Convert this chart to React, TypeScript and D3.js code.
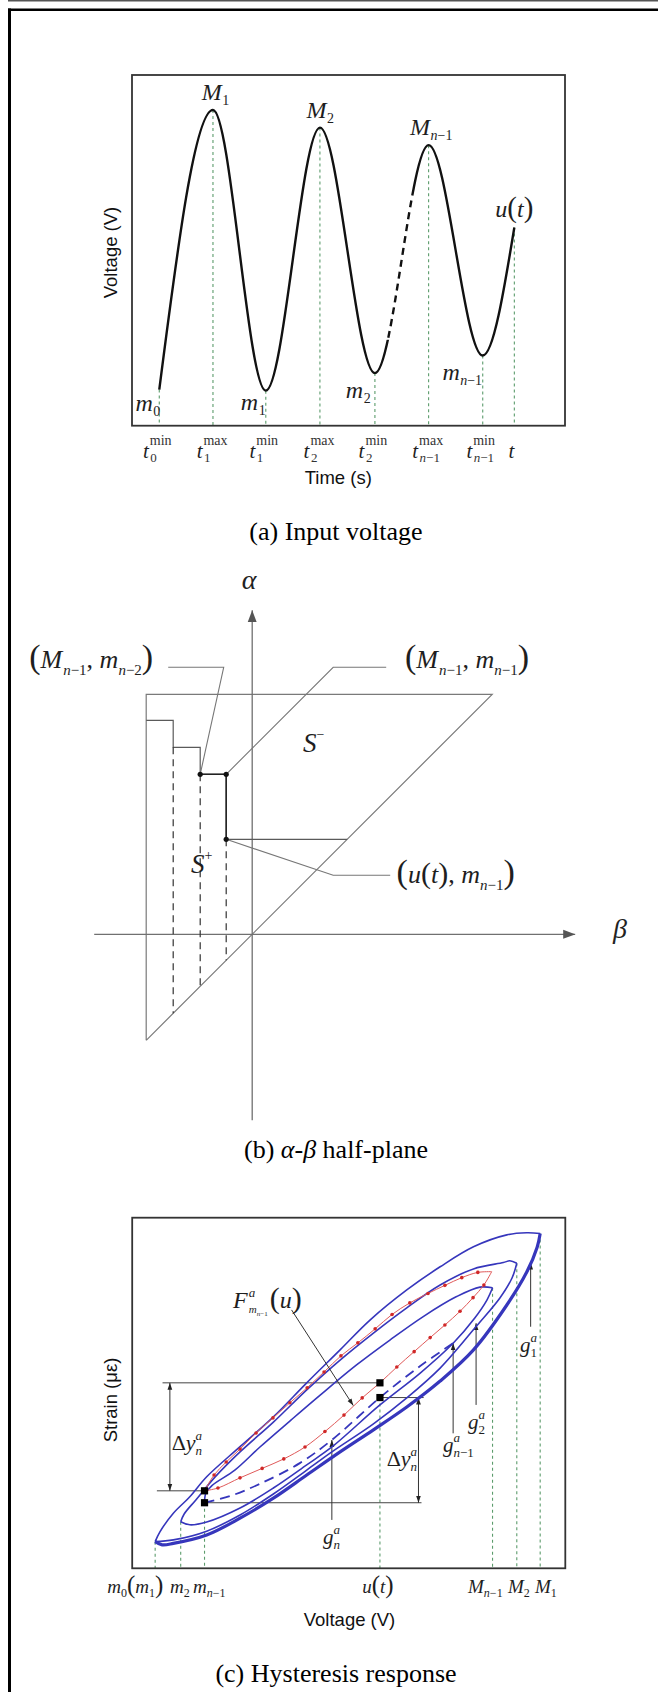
import React from "react";
import * as d3 from "d3";

const SERIF = "'Liberation Serif','Times New Roman',Times,serif";
const SANS = "'Liberation Sans',Arial,Helvetica,sans-serif";
const INK = "#1e1e1e";
const LOOP_BLUE = "#3636bc";
const GUIDE_GREEN = "#5c9c6c";
const REV_RED = "#e05a5a";

type P = [number, number];
type Seg = { t: string; it?: boolean; size?: number; shift?: number; dx?: number };

// ---------- (a) input voltage: successive extrema of u(t) ----------
const extremaTime = [0.63, 1.87, 3.09, 4.34, 5.61, 6.85, 8.1, 8.83];
const extremaVolt = [1.03, 9.0, 1.0, 8.5, 1.5, 8.0, 2.0, 5.65];
const unknownSpanVolt: [number, number] = [2.45, 6.72]; // elided stretch between m2 and M_{n-1}
const timeTickSup = ["min", "max", "min", "max", "min", "max", "min", ""];
const timeTickSub = ["0", "1", "1", "2", "2", "n−1", "n−1", ""];
const extremaBase = ["m", "M", "m", "M", "m", "M", "m", "u"];
const extremaSub = ["0", "1", "1", "2", "2", "n−1", "n−1", ""];
const extremaLabelDx = [-6.5, 8.8, -7.6, 6.7, -11.7, 1.5, -23, 0];
const extremaLabelDy = [21, -10, 19.7, -9.7, 24.7, -10, 24.7, -11];

// ---------- (b) Preisach half-plane ----------
const triangleBeta = [-1.06, -1.06, 2.4, -1.06];
const triangleAlpha = [-1.06, 2.4, 2.4, -1.06];
const stairBeta = [-1.06, -0.79, -0.79, -0.52, -0.52, -0.26, -0.26, 0.95];
const stairAlpha = [2.14, 2.14, 1.87, 1.87, 1.6, 1.6, 0.95, 0.95];
const memoryBeta = [-0.79, -0.52, -0.26];
const memoryAlpha = [1.87, 1.6, 0.95];
const markedBeta = [-0.52, -0.26, -0.26];
const markedAlpha = [1.6, 1.6, 0.95];
const betaAxisSpan = [-1.58, 3.23];
const alphaAxisSpan = [-1.86, 3.24];
const leaderOld: P[] = [[-0.84, 2.67], [-0.285, 2.67], [-0.52, 1.6]];
const leaderCorner: P[] = [[1.34, 2.67], [0.81, 2.67], [-0.26, 1.6]];
const leaderCurrent: P[] = [[-0.26, 0.95], [0.81, 0.59], [1.38, 0.59]];

// ---------- (c) hysteresis response (voltage %, strain %) ----------
const outerFall: P[] = [[94.2, 95.5], [91.1, 95.7], [86.5, 95.1], [78.8, 91.7], [71.1, 86.0], [63.4, 79.4], [54.9, 70.8], [48.0, 62.3], [40.3, 52.9], [32.6, 43.2], [24.9, 34.7], [17.2, 26.1], [13.3, 20.4], [9.5, 15.7], [6.4, 10.4], [5.3, 7.6]];
const outerRise: P[] = [[5.3, 7.6], [6.9, 6.7], [9.5, 7.1], [17.2, 9.5], [24.9, 14.3], [32.6, 20.0], [40.3, 26.6], [48.0, 33.2], [55.7, 39.5], [63.4, 46.0], [71.1, 53.4], [78.8, 62.3], [86.5, 75.1], [91.1, 84.5], [93.5, 91.6], [94.2, 95.5]];
const riseToM2: P[] = [[5.3, 7.6], [9.5, 8.1], [17.2, 10.6], [24.9, 15.2], [32.6, 21.2], [40.3, 28.0], [46.1, 33.2], [55.7, 41.2], [63.4, 48.6], [71.1, 57.1], [79.5, 69.1], [84.9, 77.1], [87.7, 82.8], [88.8, 87.0]];
const fallFromM2: P[] = [[88.8, 87.0], [87.2, 87.7], [85.7, 87.2], [78.8, 85.4], [71.1, 80.8], [63.4, 74.3], [55.7, 67.1], [48.0, 59.4], [40.3, 50.9], [32.6, 41.7], [24.9, 33.2], [19.1, 26.0], [14.7, 19.5], [12.0, 15.5], [11.2, 13.3]];
const riseToMn1: P[] = [[11.2, 13.3], [13.3, 12.4], [17.2, 13.2], [24.9, 17.2], [32.6, 22.9], [40.3, 29.5], [46.1, 34.6], [57.2, 46.6], [66.5, 55.7], [74.1, 64.2], [79.1, 71.4], [81.9, 76.5], [83.2, 80.0]];
const fallFromMn1: P[] = [[83.2, 80.0], [80.3, 80.2], [74.9, 77.5], [67.2, 71.8], [59.5, 65.1], [51.8, 58.0], [43.4, 49.4], [36.4, 42.0], [29.5, 34.6], [23.7, 28.0], [18.4, 23.6], [17.0, 21.4], [16.7, 18.7]];
const currentRise: P[] = [[16.7, 18.7], [22.6, 20.6], [29.5, 24.1], [38.7, 30.0], [46.1, 36.6], [57.2, 48.7], [66.5, 57.7], [74.1, 64.2]];
const reversalRise: P[] = [[16.7, 22.1], [19.8, 22.9], [24.9, 25.8], [30.0, 28.5], [35.0, 31.2], [39.9, 34.6], [44.5, 39.0], [48.9, 43.7], [53.1, 48.6], [57.2, 52.9], [61.1, 57.4], [65.1, 61.8], [68.8, 65.8], [72.2, 69.4], [75.7, 73.3], [78.7, 77.2], [81.2, 80.8], [83.0, 84.6]];
const reversalFall: P[] = [[83.0, 84.6], [79.8, 84.4], [76.1, 82.9], [72.2, 80.7], [68.3, 78.4], [64.1, 75.7], [60.0, 72.4], [56.1, 68.3], [52.1, 64.3], [48.2, 60.6], [44.3, 56.0], [40.4, 51.5], [36.4, 47.2], [32.5, 42.9], [28.6, 38.6], [24.9, 34.0], [21.7, 30.3], [18.9, 26.6], [16.7, 22.1]];

// reversal values at m_{n-1} and u(t)
const squareV = [16.7, 16.7, 57.2, 57.2];
const squareS = [22.1, 18.7, 52.9, 48.7];

// turning-point voltages and the strain reached there
const turnV = [5.3, 11.2, 16.7, 57.2, 83.2, 88.8, 94.2];
const turnS = [7.6, 13.3, 18.7, 48.7, 80.0, 87.0, 95.5];

// level lines used for the two Δy readings
const levelLines: P[][] = [
  [[7.0, 52.9], [57.2, 52.9]],
  [[5.7, 22.1], [16.7, 22.1]],
  [[57.2, 48.7], [67.3, 48.7]],
  [[16.7, 18.7], [66.8, 18.7]],
];
const deltaV = [8.7, 66.1];
const deltaTop = [52.9, 48.7];
const deltaBottom = [22.1, 18.7];

// g arrows: voltage, start strain, strain on the branch
const gV = [46.1, 74.1, 79.4, 92.0];
const gFrom = [13.8, 38.5, 46.6, 68.9];
const gTo = [36.6, 64.2, 69.9, 87.2];
const gSub = ["n", "n−1", "2", "1"];
const gLabelV = [44.05, 71.76, 77.53, 89.54];
const gLabelS = [7.0, 33.17, 39.73, 61.7];

const fLeader: P[] = [[36.8, 73.7], [51.05, 46.4]];

function scriptSegs(s: string, size: number, shift: number, dx = 0, upright = false): Seg[] {
  if (upright) return [{ t: s, size, shift, dx }];
  return s
    .split(/([a-z])/)
    .filter(Boolean)
    .map((p, i) => ({ t: p, it: /^[a-z]$/.test(p), size, shift, dx: i === 0 ? dx : 0 }));
}

function MathText({ x, y, segs, size, anchor = "start", fill = INK }: { x: number; y: number; segs: Seg[]; size: number; anchor?: string; fill?: string }) {
  let level = 0;
  return (
    <text x={x} y={y} fontFamily={SERIF} fontSize={size} textAnchor={anchor as any} fill={fill} style={{ whiteSpace: "pre" }}>
      {segs.map((s, i) => {
        const shift = s.shift ?? 0;
        const dy = shift - level;
        level = shift;
        return (
          <tspan key={i} dy={dy} dx={s.dx ?? 0} fontSize={s.size ?? size} fontStyle={s.it ? "italic" : "normal"}>
            {s.t}
          </tspan>
        );
      })}
    </text>
  );
}

export default function App() {
  const xA = d3.scaleLinear().domain([0, 10]).range([132, 565]);
  const yA = d3.scaleLinear().domain([0, 10]).range([425.7, 75]);
  const xB = d3.scaleLinear().domain([0, 1]).range([252.2, 352.2]);
  const yB = d3.scaleLinear().domain([0, 1]).range([934.3, 834.3]);
  const xC = d3.scaleLinear().domain([0, 100]).range([132.2, 565.3]);
  const yC = d3.scaleLinear().domain([0, 100]).range([1568.3, 1217.7]);

  const wave: P[] = extremaTime.map((t, i) => [t, extremaVolt[i]]);
  const wavePath = d3.line<P>().x((d) => xA(d[0])).y((d) => yA(d[1])).curve(d3.curveMonotoneX)(wave) || "";
  const bandX0 = xA(extremaTime[4]);
  const bandX1 = xA(extremaTime[5]);
  const bandY0 = yA(unknownSpanVolt[1]);
  const bandY1 = yA(unknownSpanVolt[0]);

  const lineB = d3.line<P>().x((d) => xB(d[0])).y((d) => yB(d[1]));
  const loop = d3.line<P>().x((d) => xC(d[0])).y((d) => yC(d[1])).curve(d3.curveCatmullRom.alpha(0.5));
  const straightC = d3.line<P>().x((d) => xC(d[0])).y((d) => yC(d[1]));

  const triangle: P[] = triangleBeta.map((b, i) => [b, triangleAlpha[i]]);
  const stairs: P[] = stairBeta.map((b, i) => [b, stairAlpha[i]]);

  const panelABox = { x: xA(0), y: yA(10), w: xA(10) - xA(0), h: yA(0) - yA(10) };
  const panelCBox = { x: xC(0), y: yC(100), w: xC(100) - xC(0), h: yC(0) - yC(100) };

  const axisLabelsC: { v: number; dx: number; anchor: string; segs: Seg[] }[] = [
    { v: turnV[0], dx: -48, anchor: "start", segs: [{ t: "m", it: true }, ...scriptSegs("0", 12, 4), { t: "(", size: 25, shift: 0 }, { t: "m", it: true }, ...scriptSegs("1", 12, 4), { t: ")", size: 25, shift: 0 }] },
    { v: turnV[1], dx: -10.7, anchor: "start", segs: [{ t: "m", it: true }, ...scriptSegs("2", 12, 4)] },
    { v: turnV[2], dx: -11.5, anchor: "start", segs: [{ t: "m", it: true }, ...scriptSegs("n−1", 12, 4)] },
    { v: turnV[3], dx: -2, anchor: "middle", segs: [{ t: "u", it: true }, { t: "(", size: 25 }, { t: "t", it: true }, { t: ")", size: 25 }] },
    { v: turnV[4], dx: -24.5, anchor: "start", segs: [{ t: "M", it: true }, ...scriptSegs("n−1", 12, 4)] },
    { v: turnV[5], dx: -8.8, anchor: "start", segs: [{ t: "M", it: true }, ...scriptSegs("2", 12, 4)] },
    { v: turnV[6], dx: -5.2, anchor: "start", segs: [{ t: "M", it: true }, ...scriptSegs("1", 12, 4)] },
  ];

  return (
    <svg width={658} height={1692} viewBox="0 0 658 1692" style={{ position: "absolute", left: 0, top: 0, background: "#fff" }}>
      <defs>
        <marker id="tip" viewBox="0 0 10 10" refX="10" refY="5" markerWidth="7" markerHeight="7" markerUnits="userSpaceOnUse" orient="auto-start-reverse">
          <path d="M0,1.6 L10,5 L0,8.4 Z" fill="#222" />
        </marker>
        <marker id="axisTip" viewBox="0 0 10 10" refX="10" refY="5" markerWidth="12" markerHeight="12" markerUnits="userSpaceOnUse" orient="auto">
          <path d="M0,1.2 L10,5 L0,8.8 Z" fill="#555" />
        </marker>
        <mask id="solidWave" maskUnits="userSpaceOnUse" x="0" y="0" width="658" height="1692">
          <rect x="0" y="0" width="658" height="1692" fill="white" />
          <rect x={bandX0} y={bandY0} width={bandX1 - bandX0} height={bandY1 - bandY0} fill="black" />
        </mask>
        <clipPath id="dashedWave">
          <rect x={bandX0} y={bandY0} width={bandX1 - bandX0} height={bandY1 - bandY0} />
        </clipPath>
      </defs>

      <rect x="0" y="0" width="658" height="1692" fill="#fff" />
      {/* page frame */}
      <line x1="8" y1="0.8" x2="658" y2="0.8" stroke="#555" strokeWidth="1.6" />
      <line x1="8" y1="9.7" x2="658" y2="9.7" stroke="#000" strokeWidth="2.6" />
      <line x1="9.5" y1="8.5" x2="9.5" y2="1692" stroke="#000" strokeWidth="3" />

      {/* ================= (a) ================= */}
      <g>
        {wave.map((d, i) => (
          <line key={i} x1={xA(d[0])} x2={xA(d[0])} y1={yA(d[1])} y2={yA(0)} stroke={GUIDE_GREEN} strokeWidth={1.1} strokeDasharray="3 3" />
        ))}
        <rect x={panelABox.x} y={panelABox.y} width={panelABox.w} height={panelABox.h} fill="none" stroke="#333" strokeWidth={1.8} />
        <path d={wavePath} fill="none" stroke="#111" strokeWidth={2.4} mask="url(#solidWave)" />
        <path d={wavePath} fill="none" stroke="#111" strokeWidth={2.4} strokeDasharray="7 5" clipPath="url(#dashedWave)" />

        {wave.map((d, i) => {
          const px = xA(d[0]) + extremaLabelDx[i];
          const py = yA(d[1]) + extremaLabelDy[i];
          if (extremaBase[i] === "u") {
            return <MathText key={i} x={px} y={py} size={24} anchor="middle" segs={[{ t: "u", it: true }, { t: "(", size: 29 }, { t: "t", it: true }, { t: ")", size: 29 }]} />;
          }
          return (
            <g key={i}>
              <text x={px} y={py} fontFamily={SERIF} fontSize={24} fontStyle="italic" textAnchor="end" fill={INK}>{extremaBase[i]}</text>
              <MathText x={px + 0.5} y={py + 5} size={14} segs={scriptSegs(extremaSub[i], 14, 0)} />
            </g>
          );
        })}

        {wave.map((d, i) => {
          const L = xA(d[0]);
          if (!timeTickSup[i]) {
            return <text key={i} x={L - 3} y={458} fontFamily={SERIF} fontSize={21} fontStyle="italic" textAnchor="middle" fill={INK}>t</text>;
          }
          return (
            <g key={i}>
              <text x={L - 10.5} y={458} fontFamily={SERIF} fontSize={21} fontStyle="italic" textAnchor="end" fill={INK}>t</text>
              <MathText x={L - 9.5} y={445} size={14} segs={scriptSegs(timeTickSup[i], 14, 0, 0, true)} fill="#333" />
              <MathText x={L - 9} y={461.5} size={13} segs={scriptSegs(timeTickSub[i], 13, 0)} fill="#333" />
            </g>
          );
        })}
        <text x={338.3} y={484} fontFamily={SANS} fontSize={18.5} textAnchor="middle" fill="#111">Time (s)</text>
        <text transform="translate(110,252.5) rotate(-90)" fontFamily={SANS} fontSize={18.5} textAnchor="middle" dominantBaseline="central" fill="#111">Voltage (V)</text>
        <text x={336} y={540} fontFamily={SERIF} fontSize={26} textAnchor="middle" fill="#000">(a) Input voltage</text>
      </g>

      {/* ================= (b) ================= */}
      <g>
        <path d={lineB(triangle) || ""} fill="none" stroke="#7a7a7a" strokeWidth={1.2} />
        <line x1={xB(betaAxisSpan[0])} y1={yB(0)} x2={xB(betaAxisSpan[1])} y2={yB(0)} stroke="#707070" strokeWidth={1.3} markerEnd="url(#axisTip)" />
        <line x1={xB(0)} y1={yB(alphaAxisSpan[0])} x2={xB(0)} y2={yB(alphaAxisSpan[1])} stroke="#707070" strokeWidth={1.3} markerEnd="url(#axisTip)" />
        <path d={lineB(stairs) || ""} fill="none" stroke="#5a5a5a" strokeWidth={1.2} />
        <path d={lineB(markedBeta.map((b, i) => [b, markedAlpha[i]] as P)) || ""} fill="none" stroke="#222" strokeWidth={1.5} />
        {memoryBeta.map((b, i) => (
          <line key={i} x1={xB(b)} x2={xB(b)} y1={yB(memoryAlpha[i])} y2={yB(b)} stroke="#333" strokeWidth={1.2} strokeDasharray="7 5" />
        ))}
        {[leaderOld, leaderCorner, leaderCurrent].map((pts, i) => (
          <path key={i} d={lineB(pts) || ""} fill="none" stroke="#777" strokeWidth={1.1} />
        ))}
        {markedBeta.map((b, i) => (
          <circle key={i} cx={xB(b)} cy={yB(markedAlpha[i])} r={2.6} fill="#111" />
        ))}

        <MathText x={xB(-0.99)} y={yB(2.663)} size={26} anchor="end" segs={[{ t: "(", size: 34 }, { t: "M", it: true }, ...scriptSegs("n−1", 15, 7, 1), { t: ",", shift: 0 }, { t: " m", it: true }, ...scriptSegs("n−2", 15, 7), { t: ")", size: 34, shift: 0 }]} />
        <MathText x={xB(1.528)} y={yB(2.663)} size={26} segs={[{ t: "(", size: 34 }, { t: "M", it: true }, ...scriptSegs("n−1", 15, 7, 1), { t: ",", shift: 0 }, { t: " m", it: true }, ...scriptSegs("n−1", 15, 7), { t: ")", size: 34, shift: 0 }]} />
        <MathText x={xB(1.444)} y={yB(0.513)} size={26} segs={[{ t: "(", size: 34 }, { t: "u", it: true }, { t: "(", size: 30 }, { t: "t", it: true }, { t: ")", size: 30 }, { t: "," }, { t: " m", it: true }, ...scriptSegs("n−1", 15, 7), { t: ")", size: 34, shift: 0 }]} />
        <MathText x={xB(0.508)} y={yB(1.823)} size={27} segs={[{ t: "S", it: true }, { t: "−", size: 14, shift: -13 }]} />
        <MathText x={xB(-0.612)} y={yB(0.613)} size={27} segs={[{ t: "S", it: true }, { t: "+", size: 14, shift: -13 }]} />
        <text x={xB(-0.03)} y={yB(3.453)} fontFamily={SERIF} fontSize={28} fontStyle="italic" textAnchor="middle" fill="#222">α</text>
        <text x={xB(3.678)} y={yB(-0.037)} fontFamily={SERIF} fontSize={28} fontStyle="italic" textAnchor="middle" fill="#222">β</text>
        <MathText x={336} y={1158} size={26} anchor="middle" fill="#000" segs={[{ t: "(b) " }, { t: "α", it: true }, { t: "-" }, { t: "β", it: true }, { t: " half-plane" }]} />
      </g>

      {/* ================= (c) ================= */}
      <g>
        {turnV.map((v, i) => (
          <line key={i} x1={xC(v)} x2={xC(v)} y1={yC(turnS[i])} y2={yC(0)} stroke={GUIDE_GREEN} strokeWidth={1.1} strokeDasharray="3 3" />
        ))}
        <rect x={panelCBox.x} y={panelCBox.y} width={panelCBox.w} height={panelCBox.h} fill="none" stroke="#333" strokeWidth={1.8} />

        {levelLines.map((pts, i) => (
          <path key={i} d={straightC(pts) || ""} stroke="#444" strokeWidth={1} fill="none" />
        ))}
        {deltaV.map((v, i) => (
          <line key={i} x1={xC(v)} x2={xC(v)} y1={yC(deltaBottom[i])} y2={yC(deltaTop[i])} stroke="#333" strokeWidth={1} markerStart="url(#tip)" markerEnd="url(#tip)" />
        ))}
        {gV.map((v, i) => (
          <line key={i} x1={xC(v)} x2={xC(v)} y1={yC(gFrom[i])} y2={yC(gTo[i])} stroke="#333" strokeWidth={1} markerEnd="url(#tip)" />
        ))}

        <path d={loop(outerFall) || ""} fill="none" stroke={LOOP_BLUE} strokeWidth={1.6} />
        <path d={loop(riseToM2) || ""} fill="none" stroke={LOOP_BLUE} strokeWidth={1.6} />
        <path d={loop(fallFromM2) || ""} fill="none" stroke={LOOP_BLUE} strokeWidth={1.6} />
        <path d={loop(riseToMn1) || ""} fill="none" stroke={LOOP_BLUE} strokeWidth={1.6} />
        <path d={loop(fallFromMn1) || ""} fill="none" stroke={LOOP_BLUE} strokeWidth={1.6} />
        <path d={loop(currentRise) || ""} fill="none" stroke={LOOP_BLUE} strokeWidth={1.8} strokeDasharray="10 6" />
        <path d={loop(outerRise) || ""} fill="none" stroke={LOOP_BLUE} strokeWidth={3.2} />

        <path d={loop(reversalRise) || ""} fill="none" stroke={REV_RED} strokeWidth={1} />
        <path d={loop(reversalFall) || ""} fill="none" stroke={REV_RED} strokeWidth={1} />
        {[...reversalRise.slice(1, -1), ...reversalFall.slice(1, -1)].map((d, i) => (
          <circle key={i} cx={xC(d[0])} cy={yC(d[1])} r={1.8} fill="#d02828" />
        ))}

        <path d={straightC(fLeader) || ""} stroke="#333" strokeWidth={1} fill="none" markerEnd="url(#tip)" />

        {squareV.map((v, i) => (
          <rect key={i} x={xC(v) - 3.6} y={yC(squareS[i]) - 3.6} width={7.2} height={7.2} fill="#000" />
        ))}

        <MathText x={xC(23.3)} y={yC(74.25)} size={24} segs={[{ t: "F", it: true }, { t: "a", it: true, size: 13, shift: -11, dx: 1 }, { t: "m", it: true, size: 11, shift: 5, dx: -6.5 }, ...scriptSegs("n−1", 7, 8), { t: "(", size: 30, shift: 0, dx: 2 }, { t: "u", it: true }, { t: ")", size: 30 }]} />
        <MathText x={xC(9.12)} y={yC(33.7)} size={22} segs={[{ t: "Δ" }, { t: "y", it: true }, { t: "a", it: true, size: 13, shift: -10 }, { t: "n", it: true, size: 13, shift: 5, dx: -6.5 }]} />
        <MathText x={xC(58.76)} y={yC(29.18)} size={22} segs={[{ t: "Δ" }, { t: "y", it: true }, { t: "a", it: true, size: 13, shift: -10 }, { t: "n", it: true, size: 13, shift: 5, dx: -6.5 }]} />
        {gV.map((v, i) => (
          <MathText key={i} x={xC(gLabelV[i])} y={yC(gLabelS[i])} size={21} segs={[{ t: "g", it: true }, { t: "a", it: true, size: 13, shift: -10 }, ...scriptSegs(gSub[i], 13, 5, -6.5)]} />
        ))}

        {axisLabelsC.map((l, i) => (
          <MathText key={i} x={xC(l.v) + l.dx} y={yC(0) + 24.7} size={19} anchor={l.anchor} segs={l.segs} />
        ))}
        <text x={349.5} y={1626} fontFamily={SANS} fontSize={18.5} textAnchor="middle" fill="#111">Voltage (V)</text>
        <text transform="translate(110,1400) rotate(-90)" fontFamily={SANS} fontSize={18.5} textAnchor="middle" dominantBaseline="central" fill="#111">Strain (με)</text>
        <text x={336} y={1682} fontFamily={SERIF} fontSize={26} textAnchor="middle" fill="#000">(c) Hysteresis response</text>
      </g>
    </svg>
  );
}
